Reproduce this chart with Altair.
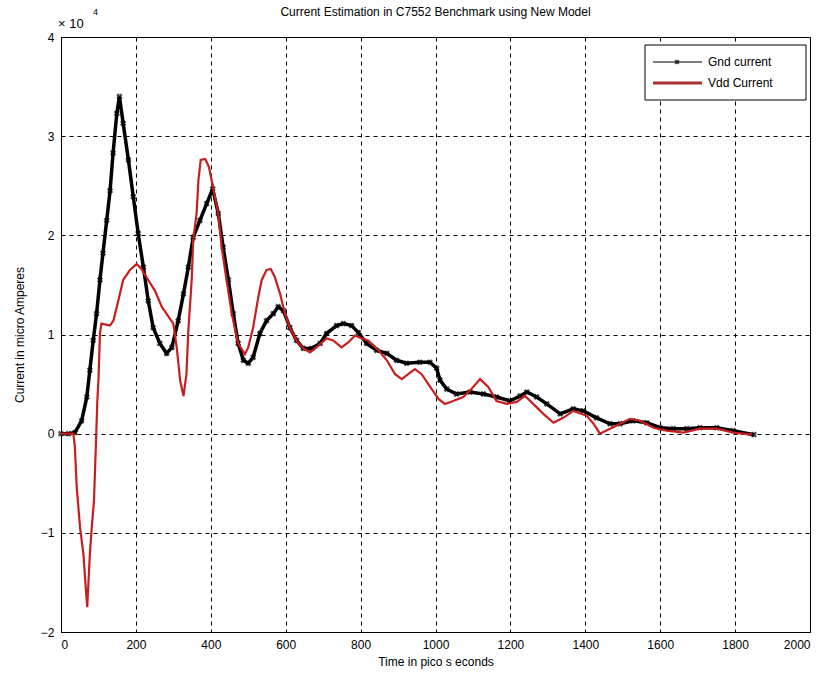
import altair as alt
import pandas as pd

# ---- data (time in ps, current in micro Amperes) ----
gnd_time = [0, 20, 37, 55, 69, 77, 86, 95, 104, 112, 122, 131, 139, 149, 156, 166, 180, 193, 206, 220,
            233, 246, 264, 282, 296, 313, 327, 340, 353, 371, 389, 405, 420, 433, 447, 460, 473, 487, 500, 513,
            531, 549, 567, 580, 594, 611, 629, 647, 669, 692, 709, 736, 754, 776, 794, 816, 843, 870, 896, 923,
            958, 985, 1003, 1012, 1030, 1056, 1092, 1128, 1163, 1199, 1226, 1244, 1270, 1297, 1333, 1368, 1395, 1430, 1466, 1493,
            1528, 1564, 1600, 1635, 1671, 1706, 1751, 1795, 1850]
gnd_current = [0, 0, 100, 1300, 3700, 6400, 9400, 12100, 15500, 18200, 21500, 24500, 28300, 32300, 34000, 31300, 27600, 23900, 20200, 16800,
               13400, 10700, 9100, 8100, 8700, 11400, 14100, 16800, 19800, 21500, 23200, 24700, 22200, 18800, 15500, 12100, 9100, 7400, 7100, 7700,
               10100, 11400, 12100, 12800, 12400, 10700, 9400, 8600, 8600, 9100, 10100, 10900, 11100, 10900, 10200, 9100, 8400, 8100, 7400, 7100,
               7200, 7200, 6600, 5400, 4500, 4000, 4200, 4000, 3700, 3300, 3800, 4200, 3700, 3000, 2000, 2500, 2300, 1600, 1000, 1000,
               1300, 1100, 600, 500, 500, 600, 600, 300, -100]

vdd_time = [0, 33, 37, 42, 51, 60, 66, 70, 77, 82, 88, 93, 97, 100, 104, 108, 131, 140, 153, 166,
            184, 202, 215, 233, 251, 269, 287, 300, 309, 318, 327, 335, 340, 349, 353, 362, 367, 373, 385, 395,
            402, 411, 420, 429, 442, 456, 473, 491, 500, 513, 527, 536, 549, 560, 571, 585, 598, 611, 629, 647,
            665, 682, 709, 727, 749, 767, 785, 803, 820, 843, 870, 892, 910, 927, 945, 963, 990, 1008, 1025, 1047,
            1074, 1096, 1119, 1141, 1163, 1190, 1217, 1239, 1261, 1288, 1315, 1341, 1368, 1404, 1422, 1439, 1466, 1493, 1519, 1546,
            1582, 1617, 1662, 1706, 1751, 1795, 1845]
vdd_current = [0, 0, -1300, -5400, -9500, -12200, -15500, -17500, -12200, -9500, -6800, -1300, 3300, 5400, 10100, 11100, 10900, 11400, 13400, 15500,
               16500, 17100, 16600, 15500, 14400, 12800, 11800, 11100, 8700, 5400, 3800, 6000, 10400, 15500, 19500, 22200, 25600, 27600, 27700, 26900,
               25600, 23900, 22200, 18800, 15500, 12100, 9100, 8000, 8700, 10700, 13800, 15500, 16500, 16600, 15800, 14100, 12100, 10700, 9400, 8600,
               8200, 8700, 9600, 9400, 8700, 9200, 9900, 9600, 9400, 8600, 7400, 6000, 5500, 6000, 6500, 6000, 4500, 3500, 3000, 3300,
               3700, 4500, 5500, 4700, 3300, 3000, 3200, 3800, 3000, 2000, 1100, 1600, 2300, 1800, 1000, 0, 500, 1000, 1500, 1300,
               600, 300, 100, 500, 500, 100, -100]

series_names = ["Gnd current", "Vdd Current"]
chart_title = "Current Estimation in C7552 Benchmark using New Model"
x_ticks = [0, 200, 400, 600, 800, 1000, 1200, 1400, 1600, 1800, 2000]
y_ticks = [-20000, -10000, 0, 10000, 20000, 30000, 40000]

gnd = pd.DataFrame({"t": gnd_time, "i": gnd_current, "series": series_names[0]})
vdd = pd.DataFrame({"t": vdd_time, "i": vdd_current, "series": series_names[1]})

RED = "#c81e1e"
FONT = "Liberation Sans"

x_enc = alt.X("t:Q", scale=alt.Scale(domain=[0, 2000], nice=False, zero=False),
              axis=alt.Axis(values=x_ticks, title="Time in pico s econds", labelPadding=7,
                            titlePadding=6, format="d"))
y_enc = alt.Y("i:Q", scale=alt.Scale(domain=[-20000, 40000], nice=False, zero=False),
              axis=alt.Axis(values=y_ticks, title="Current in micro Amperes",
                            labelExpr="format(datum.value / 10000, 'd')", labelPadding=7,
                            titlePadding=14))

gnd_line = alt.Chart(gnd).mark_line(color="black", strokeWidth=3.5).encode(x=x_enc, y=y_enc, order="t:Q")
gnd_pts = alt.Chart(gnd).mark_point(shape="cross", angle=45, filled=True, color="black", size=40).encode(
    x="t:Q", y="i:Q")
vdd_line = alt.Chart(vdd).mark_line(color=RED, strokeWidth=2.2).encode(x="t:Q", y="i:Q", order="t:Q")

# title as a text mark centred over the plot
title_mark = alt.Chart(pd.DataFrame({"s": [chart_title]})).mark_text(
    align="center", baseline="middle", fontSize=12, font=FONT, color="black").encode(
    x=alt.value(374.5), y=alt.value(-25), text="s:N")

# exponent annotation
exp_main = alt.Chart(pd.DataFrame({"s": ["× 10"]})).mark_text(
    align="left", baseline="alphabetic", fontSize=13, font=FONT, color="black").encode(
    x=alt.value(-3), y=alt.value(-9), text="s:N")
exp_sup = alt.Chart(pd.DataFrame({"s": ["4"]})).mark_text(
    align="left", baseline="alphabetic", fontSize=9, font=FONT, color="black").encode(
    x=alt.value(32), y=alt.value(-22), text="s:N")

# legend (manual, MATLAB style)
leg_box = alt.Chart(pd.DataFrame({"a": [0]})).mark_rect(fill="white", stroke="black", strokeWidth=1).encode(
    x=alt.value(584), x2=alt.value(745), y=alt.value(8), y2=alt.value(63))
leg_gnd_line = alt.Chart(pd.DataFrame({"a": [0]})).mark_rule(color="black", strokeWidth=1).encode(
    x=alt.value(592), x2=alt.value(641), y=alt.value(25))
leg_gnd_pt = alt.Chart(pd.DataFrame({"a": [0]})).mark_point(
    shape="cross", angle=45, filled=True, color="black", size=28).encode(x=alt.value(616), y=alt.value(25))
leg_vdd_line = alt.Chart(pd.DataFrame({"a": [0]})).mark_rule(color="#a83030", strokeWidth=3).encode(
    x=alt.value(592), x2=alt.value(641), y=alt.value(46))
leg_gnd_txt = alt.Chart(pd.DataFrame({"s": [series_names[0]]})).mark_text(
    align="left", baseline="middle", fontSize=12, font=FONT, color="black").encode(
    x=alt.value(647), y=alt.value(25), text="s:N")
leg_vdd_txt = alt.Chart(pd.DataFrame({"s": [series_names[1]]})).mark_text(
    align="left", baseline="middle", fontSize=12, font=FONT, color="black").encode(
    x=alt.value(647), y=alt.value(46), text="s:N")

chart = alt.layer(
    gnd_line, gnd_pts, vdd_line, title_mark, exp_main, exp_sup,
    leg_box, leg_gnd_line, leg_gnd_pt, leg_vdd_line, leg_gnd_txt, leg_vdd_txt
).properties(
    width=749, height=595,
    autosize=alt.AutoSizeParams(type="none"),
    padding={"left": 61, "top": 37, "right": 21, "bottom": 49},
    background="white",
).configure_view(
    stroke="black", strokeWidth=1
).configure_axis(
    domain=False, ticks=False, grid=True,
    gridColor="black", gridDash=[4, 4], gridWidth=1, gridOpacity=1,
    labelFont=FONT, labelFontSize=12, labelColor="black",
    titleFont=FONT, titleFontSize=12, titleFontWeight="normal", titleColor="black",
)

chart.save("out.html", embed_options={"renderer": "svg", "actions": False})
